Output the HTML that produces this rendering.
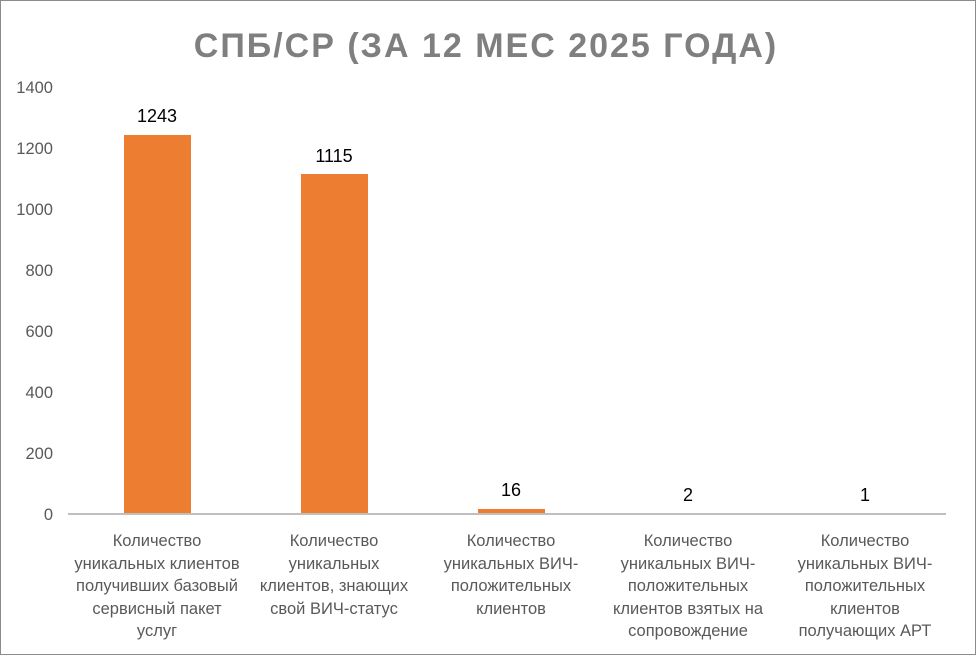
<!DOCTYPE html>
<html><head><meta charset="utf-8"><style>
html,body{margin:0;padding:0;background:#fff}
svg{display:block}
text{font-family:"Liberation Sans","DejaVu Sans",sans-serif}
</style></head><body>
<svg width="977" height="656" xmlns="http://www.w3.org/2000/svg">
<rect x="0.5" y="0.5" width="975" height="654" fill="#fff" stroke="#8c8c8c" stroke-width="1"/>
<text x="486" y="57" text-anchor="middle" font-size="34" font-weight="bold" fill="#7f7f7f" letter-spacing="2">СПБ/СР (ЗА 12 МЕС 2025 ГОДА)</text>
<g font-size="16.5" fill="#595959" text-anchor="end">
<text x="53" y="93">1400</text>
<text x="53" y="154">1200</text>
<text x="53" y="215">1000</text>
<text x="53" y="276">800</text>
<text x="53" y="337">600</text>
<text x="53" y="398">400</text>
<text x="53" y="459">200</text>
<text x="53" y="520">0</text>
</g>
<g fill="#ed7d31">
<rect x="124" y="135" width="67" height="379"/>
<rect x="301" y="174" width="67" height="340"/>
<rect x="478" y="509" width="67" height="5"/>
<rect x="655" y="513" width="67" height="1"/>
</g>
<line x1="68" y1="514" x2="946" y2="514" stroke="#bfbfbf" stroke-width="2"/>
<g font-size="18" fill="#000" text-anchor="middle">
<text x="157" y="122">1243</text>
<text x="334" y="162">1115</text>
<text x="511" y="496">16</text>
<text x="688" y="501">2</text>
<text x="865" y="501">1</text>
</g>
<g font-size="16.5" fill="#595959" text-anchor="middle">
<text x="157" y="546">Количество</text><text x="157" y="569">уникальных клиентов</text><text x="157" y="591">получивших базовый</text><text x="157" y="614">сервисный пакет</text><text x="157" y="636">услуг</text>
<text x="334" y="546">Количество</text><text x="334" y="569">уникальных</text><text x="334" y="591">клиентов, знающих</text><text x="334" y="614">свой ВИЧ-статус</text>
<text x="511" y="546">Количество</text><text x="511" y="569">уникальных ВИЧ-</text><text x="511" y="591">положительных</text><text x="511" y="614">клиентов</text>
<text x="688" y="546">Количество</text><text x="688" y="569">уникальных ВИЧ-</text><text x="688" y="591">положительных</text><text x="688" y="614">клиентов взятых на</text><text x="688" y="636">сопровождение</text>
<text x="865" y="546">Количество</text><text x="865" y="569">уникальных ВИЧ-</text><text x="865" y="591">положительных</text><text x="865" y="614">клиентов</text><text x="865" y="636">получающих АРТ</text>
</g>
</svg>
</body></html>
